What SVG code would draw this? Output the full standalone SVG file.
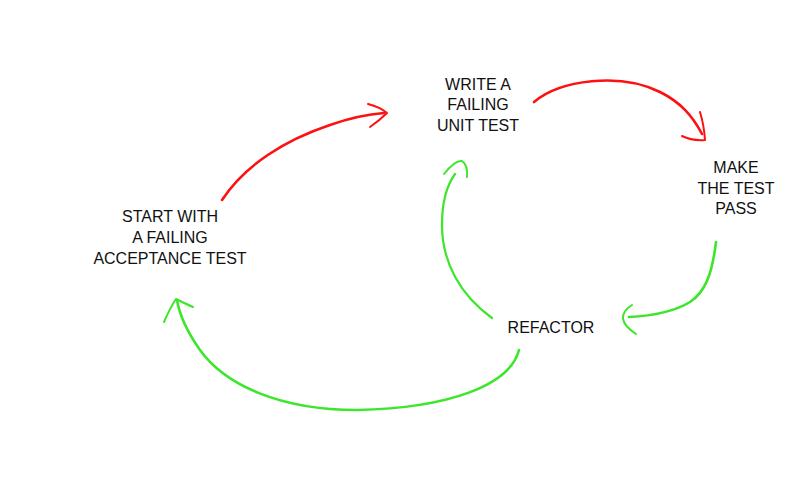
<svg xmlns="http://www.w3.org/2000/svg" width="800" height="486" viewBox="0 0 800 486">
<style>
text{font-family:"Liberation Sans",Arial,sans-serif;font-size:16px;fill:#111;text-anchor:middle}
.r{fill:none;stroke:#ff1010;stroke-linecap:round;stroke-linejoin:round}
.g{fill:none;stroke:#3ce62a;stroke-linecap:round;stroke-linejoin:round}
</style>
<rect width="800" height="486" fill="#fff"/>
<g id="connectors">
<path class="r" stroke-width="2.6" d="M222,200 C245,165 285,140 330,125 C350,118 370,114 384,113"/>
<path class="r" stroke-width="2" d="M368,104 Q380,107 387,113 Q380,120 370,127"/>
<path class="r" stroke-width="2.6" d="M534,102 C560,80 620,72 660,92 C680,102 692,115 702,134"/>
<path class="r" stroke-width="2" d="M700,112 Q704,125 705,140 Q692,141 682,136"/>
<path class="g" stroke-width="2.6" d="M716,242 C712,275 705,292 690,302 C672,313 650,316 629,317"/>
<path class="g" stroke-width="2" d="M632,305 Q612,318 636,334"/>
<path class="g" stroke-width="2.2" d="M492,318 C460,295 442,262 442,225 C442,200 447,185 455,174"/>
<path class="g" stroke-width="2" d="M444,174 Q455,160 462,161 Q468,165 467,177"/>
<path class="g" stroke-width="2.6" d="M519,350 C510,385 450,408 357,410 C280,410 225,385 200,350 C188,333 180,318 177,300"/>
<path class="g" stroke-width="2" d="M164,322 Q170,308 176,299 Q186,304 193,307"/>
</g>
<g id="node-start">
<text x="170" y="222">START WITH</text>
<text x="170" y="243">A FAILING</text>
<text x="170" y="264">ACCEPTANCE TEST</text>
</g>
<g id="node-write">
<text x="478" y="90">WRITE A</text>
<text x="478" y="110">FAILING</text>
<text x="478" y="131">UNIT TEST</text>
</g>
<g id="node-make">
<text x="736" y="173">MAKE</text>
<text x="736" y="194">THE TEST</text>
<text x="736" y="214">PASS</text>
</g>
<g id="node-refactor">
<text x="551" y="333">REFACTOR</text>
</g>
</svg>
